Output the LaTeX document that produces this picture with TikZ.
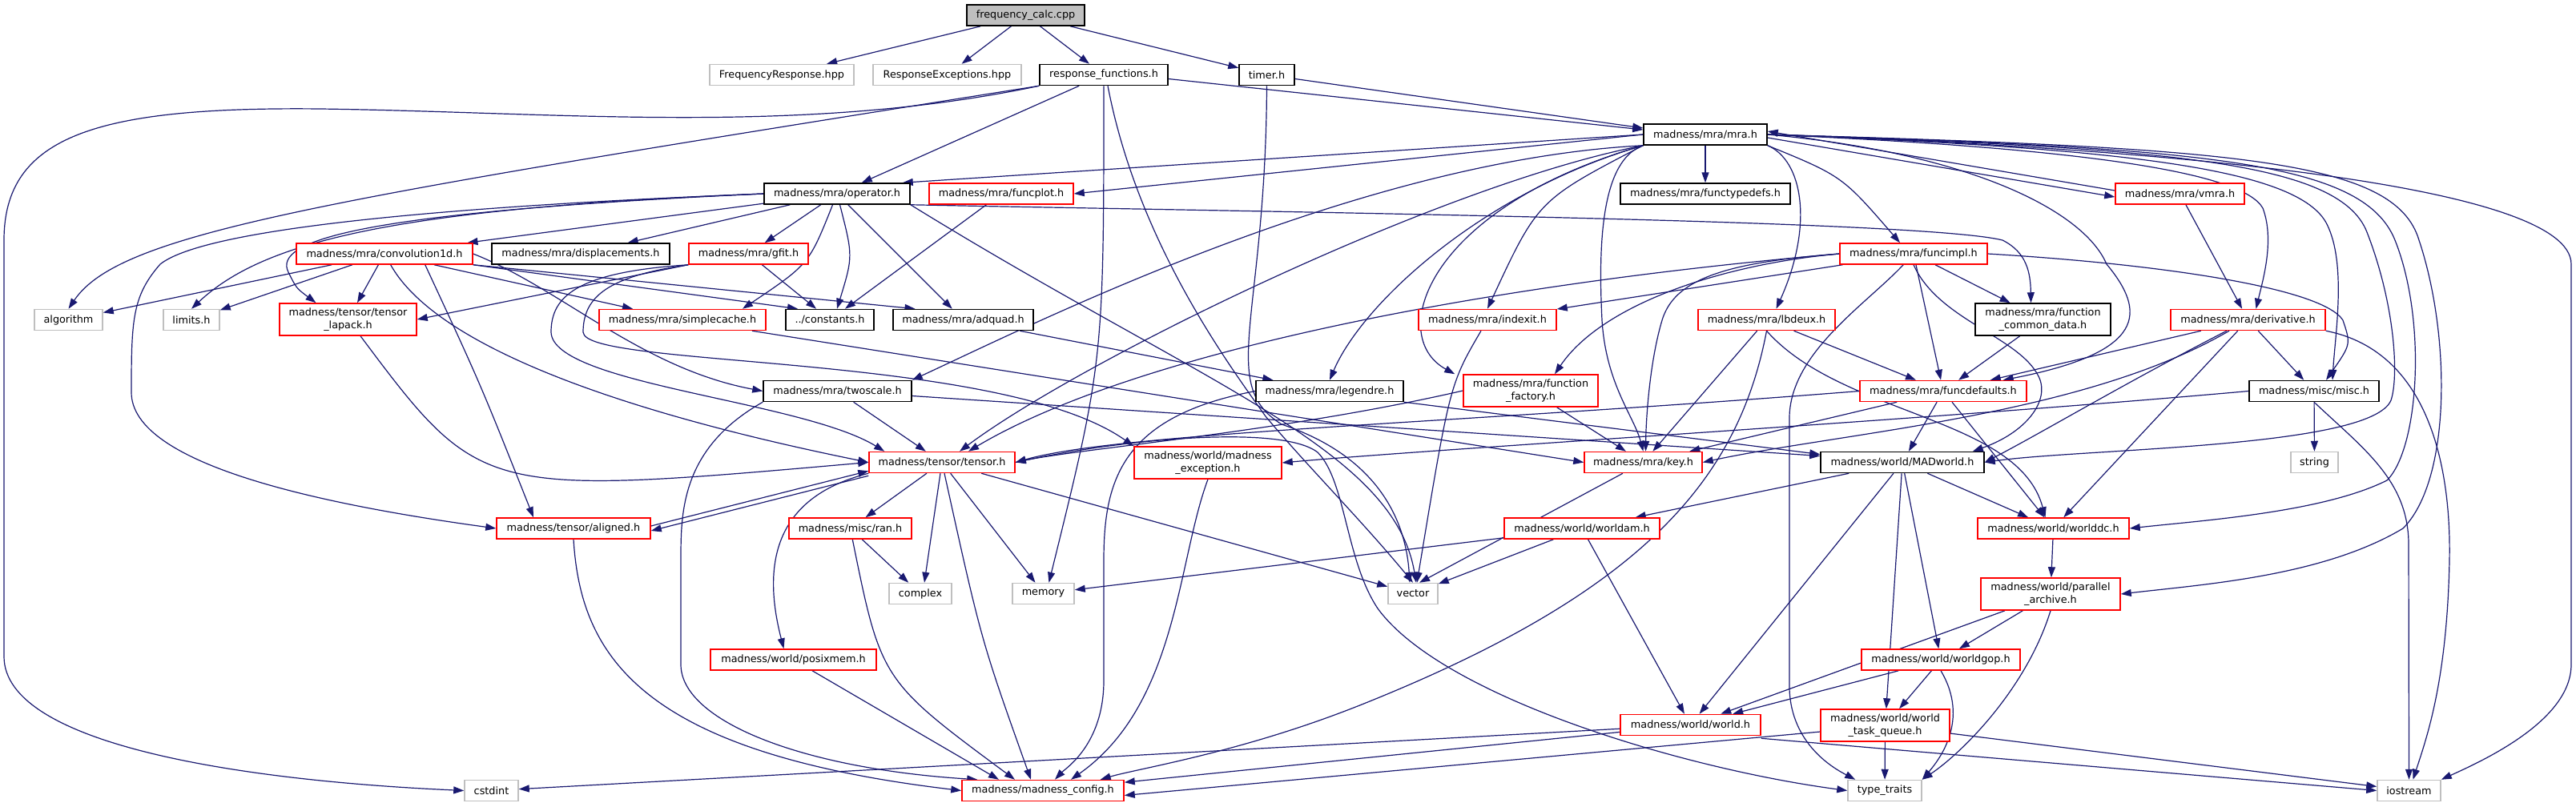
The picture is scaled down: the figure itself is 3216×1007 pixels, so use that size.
\documentclass[tikz,border=0pt]{standalone}
\usepackage{fontspec}
\setmainfont{DejaVu Sans}
\usetikzlibrary{arrows.meta}
\definecolor{mblue}{HTML}{191970}
\definecolor{rootfill}{HTML}{BFBFBF}
\definecolor{gborder}{HTML}{BFBFBF}
\definecolor{rborder}{HTML}{FF0000}
\pgfdeclarelayer{bg}
\pgfsetlayers{bg,main}
\begin{document}
\begin{tikzpicture}[x=1pt,y=-1pt,
  box/.style={draw=black,line width=1.5pt,fill=white,inner sep=0pt,align=center,
    font=\fontsize{12.8}{15.3}\selectfont,minimum height=26pt},
  rbox/.style={box,draw=rborder},
  gbox/.style={box,draw=gborder},
  two/.style={minimum height=40pt},
  e/.style={draw=mblue,line width=1.2pt,-{Triangle[length=13pt,width=9pt]}}]
\useasboundingbox (0,0) rectangle (3216,1007);
% nodes
\node[box,fill=rootfill,minimum width=147pt] (freq) at (1280.5,19) {frequency\_calc.cpp};
\node[gbox,minimum width=180pt] (FR) at (976,93.5) {FrequencyResponse.hpp};
\node[gbox,minimum width=185pt] (RE) at (1182.5,93.5) {ResponseExceptions.hpp};
\node[box,minimum width=160pt] (rf) at (1378,93.5) {response\_functions.h};
\node[box,minimum width=69pt] (timer) at (1581.5,93.5) {timer.h};
\node[box,minimum width=154pt] (mra) at (2129,168) {madness/mra/mra.h};
\node[box,minimum width=182pt] (op) at (1045,242) {madness/mra/operator.h};
\node[rbox,minimum width=180pt] (funcplot) at (1250,242) {madness/mra/funcplot.h};
\node[box,minimum width=212pt] (functypedefs) at (2129,242) {madness/mra/functypedefs.h};
\node[rbox,minimum width=161pt] (vmra) at (2721.5,242) {madness/mra/vmra.h};
\node[rbox,minimum width=220pt] (conv) at (480,317) {madness/mra/convolution1d.h};
\node[box,minimum width=222pt] (disp) at (725,317) {madness/mra/displacements.h};
\node[rbox,minimum width=149pt] (gfit) at (934.5,317) {madness/mra/gfit.h};
\node[rbox,minimum width=184pt] (funcimpl) at (2389,317) {madness/mra/funcimpl.h};
\node[gbox,minimum width=85pt] (algorithm) at (85.5,399.5) {algorithm};
\node[gbox,minimum width=70pt] (limits) at (239,399.5) {limits.h};
\node[rbox,two,minimum width=171pt] (lapack) at (434.5,399) {madness/tensor/tensor\\\_lapack.h};
\node[rbox,minimum width=208pt] (simplecache) at (852,399.5) {madness/mra/simplecache.h};
\node[box,minimum width=110pt] (constants) at (1036,399.5) {../constants.h};
\node[box,minimum width=175pt] (adquad) at (1202.5,399.5) {madness/mra/adquad.h};
\node[rbox,minimum width=172pt] (indexit) at (1857,399.5) {madness/mra/indexit.h};
\node[rbox,minimum width=171pt] (lbdeux) at (2205.5,399.5) {madness/mra/lbdeux.h};
\node[box,two,minimum width=169pt] (fcd) at (2550.5,399) {madness/mra/function\\\_common\_data.h};
\node[rbox,minimum width=193pt] (derivative) at (2806.5,399.5) {madness/mra/derivative.h};
\node[box,minimum width=185pt] (twoscale) at (1045.5,488.5) {madness/mra/twoscale.h};
\node[box,minimum width=184pt] (legendre) at (1660,488.5) {madness/mra/legendre.h};
\node[rbox,two,minimum width=168pt] (ffactory) at (1911,488) {madness/mra/function\\\_factory.h};
\node[rbox,minimum width=208pt] (funcdefaults) at (2426,488.5) {madness/mra/funcdefaults.h};
\node[box,minimum width=162pt] (misc) at (2889,488.5) {madness/misc/misc.h};
\node[rbox,minimum width=182pt] (tensor) at (1176,577.5) {madness/tensor/tensor.h};
\node[rbox,two,minimum width=184pt] (mexc) at (1508,578) {madness/world/madness\\\_exception.h};
\node[rbox,minimum width=147pt] (key) at (2051.5,577.5) {madness/mra/key.h};
\node[box,minimum width=204pt] (MADworld) at (2375,577.5) {madness/world/MADworld.h};
\node[gbox,minimum width=59pt] (string) at (2889.5,577.5) {string};
\node[rbox,minimum width=192pt] (aligned) at (716,660) {madness/tensor/aligned.h};
\node[rbox,minimum width=153pt] (ran) at (1061.5,660) {madness/misc/ran.h};
\node[rbox,minimum width=194pt] (worldam) at (1975,660) {madness/world/worldam.h};
\node[rbox,minimum width=189pt] (worlddc) at (2563.5,660) {madness/world/worlddc.h};
\node[gbox,minimum width=78pt] (complex) at (1149,741.5) {complex};
\node[gbox,minimum width=77pt] (memory) at (1302.5,741.5) {memory};
\node[gbox,minimum width=62pt] (vector) at (1764,741.5) {vector};
\node[rbox,two,minimum width=174pt] (parallel) at (2560,742) {madness/world/parallel\\\_archive.h};
\node[rbox,minimum width=207pt] (posixmem) at (990.5,824) {madness/world/posixmem.h};
\node[rbox,minimum width=198pt] (worldgop) at (2423,824) {madness/world/worldgop.h};
\node[rbox,minimum width=175pt] (world) at (2110.5,905.5) {madness/world/world.h};
\node[rbox,two,minimum width=161pt] (wtq) at (2353.5,906) {madness/world/world\\\_task\_queue.h};
\node[gbox,minimum width=67pt] (cstdint) at (613.5,987.5) {cstdint};
\node[rbox,minimum width=202pt] (config) at (1302,987.5) {madness/madness\_config.h};
\node[gbox,minimum width=92pt] (typetraits) at (2353,987.5) {type\_traits};
\node[gbox,minimum width=79pt] (iostream) at (3007.5,987.5) {iostream};
% edges
\begin{pgfonlayer}{bg}
\draw[e] (freq) -- (FR);
\draw[e] (freq) -- (RE);
\draw[e] (freq) -- (rf);
\draw[e] (freq) -- (timer);
\draw[e] ([yshift=-5pt]rf.east) -- ([yshift=6pt]mra.west);
\draw[e] (timer) -- ([yshift=8pt]mra.west);
\draw[e] (rf) -- (op);
\draw[e] (rf.south west) .. controls (400,250) and (150,290) .. (algorithm.north);
\draw[e] (rf.south west) .. controls (1000,170) and (700,140) .. (400,136) .. controls (120,133) and (5,170) .. (5,300) -- (5,820) .. controls (5,930) and (300,975) .. (cstdint.west);
\draw[e] (rf.south) .. controls (1378,450) .. ([xshift=7pt]memory.north);
\draw[e] ([xshift=5pt]rf.south) .. controls (1420,300) and (1530,450) .. (1580,520) .. controls (1630,580) and (1700,650) .. (vector.north);
\draw[e] (timer.south) .. controls (1580,400) and (1520,480) .. (1600,530) .. controls (1720,570) and (1755,650) .. ([xshift=-4pt]vector.north);
% mra
\draw[e] (mra.west) -- ([xshift=-10pt]op.north east);
\draw[e] (mra.west) -- (funcplot.east);
\draw[e] (mra) -- (functypedefs);
\draw[e] ([yshift=-4pt]mra.east) -- ([yshift=-4pt]vmra.west);
\draw[e] ([yshift=4pt]vmra.west) -- ([yshift=4pt]mra.east);
\draw[e] (mra.south east) .. controls (2300,220) .. ([xshift=-17pt]funcimpl.north);
\draw[e] (mra.south west) .. controls (1700,200) and (1300,400) .. (twoscale.north east);
\draw[e] (mra.south west) .. controls (1800,230) and (1350,450) .. ([xshift=22pt]tensor.north);
\draw[e] (mra.south west) .. controls (1850,240) and (1700,380) .. (legendre.north);
\draw[e] (mra.south west) .. controls (1780,260) and (1730,420) .. ([xshift=-10pt]ffactory.north west);
\draw[e] (mra.south west) .. controls (1920,250) .. (indexit.north);
\draw[e] (mra.south west) .. controls (2000,200) and (1995,300) .. (2000,400) .. controls (2005,480) and (2040,520) .. (key.north);
\draw[e] (mra.south east) .. controls (2250,200) and (2265,280) .. ([xshift=12pt]lbdeux.north);
\draw[e] (mra.east) .. controls (2450,190) and (2600,260) .. (2630,330) .. controls (2680,390) and (2680,440) .. ([xshift=-30pt]funcdefaults.north east);
\draw[e] (mra.east) .. controls (2600,185) and (2800,215) .. (2825,260) .. controls (2840,300) and (2825,350) .. ([xshift=10pt]derivative.north);
\draw[e] (mra.east) .. controls (2650,185) and (2870,210) .. (2905,280) .. controls (2930,330) and (2915,420) .. ([xshift=23pt]misc.north);
\draw[e] (mra.east) .. controls (2700,185) and (2920,200) .. (2955,290) .. controls (2990,380) and (2995,470) .. (2985,500) .. controls (2960,560) and (2600,560) .. (MADworld.east);
\draw[e] (mra.east) .. controls (2750,185) and (2950,200) .. (2990,300) .. controls (3030,400) and (3020,560) .. (2980,600) .. controls (2900,640) and (2750,650) .. (worlddc.east);
\draw[e] (mra.east) .. controls (2800,185) and (2990,200) .. (3020,300) .. controls (3060,420) and (3060,600) .. (3000,660) .. controls (2900,720) and (2750,730) .. (parallel.east);
\draw[e] (mra.east) .. controls (2700,185) and (3210,230) .. (3210,330) -- (3210,830) .. controls (3210,900) and (3100,950) .. (iostream.north east);
\draw[e] (vmra) -- (derivative);
% operator
\draw[e] (op) -- (conv);
\draw[e] (op) -- (disp);
\draw[e] (op) -- (gfit);
\draw[e] (op.west) .. controls (500,260) and (330,300) .. (limits.north);
\draw[e] (op.west) .. controls (500,260) and (250,290) .. (200,330) .. controls (165,370) and (164,400) .. (164,490) .. controls (164,580) and (400,630) .. (aligned.west);
\draw[e] (op.west) .. controls (450,265) and (340,300) .. (360,340) .. controls (370,360) .. ([xshift=-40pt]lapack.north);
\draw[e] (op) .. controls (1010,330) .. ([xshift=75pt]simplecache.north);
\draw[e] (op) .. controls (1065,320) .. ([xshift=9pt]constants.north);
\draw[e] (op) -- (adquad);
\draw[e] (op.south east) .. controls (1600,265) and (2400,275) .. (2500,300) .. controls (2530,315) and (2535,340) .. ([xshift=-15pt]fcd.north);
\draw[e] (op.south east) .. controls (1500,480) and (1740,560) .. ([xshift=4pt]vector.north);
\draw[e] (funcplot) -- ([xshift=19pt]constants.north);
% conv
\draw[e] (conv) -- (algorithm);
\draw[e] (conv) -- (limits);
\draw[e] (conv) -- (lapack);
\draw[e] (conv) -- (simplecache);
\draw[e] (conv.south east) -- ([xshift=-40pt]constants.north);
\draw[e] (conv.south east) -- ([xshift=-60pt]adquad.north);
\draw[e] ([xshift=-60pt]conv.south east) .. controls (600,480) .. ([xshift=-50pt]aligned.north);
\draw[e] (conv) .. controls (560,460) and (900,540) .. (tensor.west);
\draw[e] (conv.east) .. controls (700,360) and (800,460) .. (twoscale.west);
% gfit
\draw[e] (gfit.south west) -- (lapack.east);
\draw[e] (gfit) -- (constants);
\draw[e] (gfit.south west) .. controls (720,340) and (688,370) .. (688,415) .. controls (690,480) and (1000,500) .. ([xshift=20pt]tensor.north west);
\draw[e] (gfit.south west) .. controls (760,345) and (728,370) .. (728,415) .. controls (730,460) and (1250,440) .. (mexc.north west);
\draw[e] (lapack) .. controls (600,620) .. (tensor.west);
\draw[e] (simplecache) -- (key.west);
\draw[e] (adquad) -- (legendre);
\draw[e] (twoscale) -- (tensor);
\draw[e] (twoscale.south west) .. controls (850,560) and (850,640) .. (850,700) -- (850,830) .. controls (850,900) and (1000,960) .. ([xshift=20pt]config.north west);
\draw[e] ([yshift=-6pt]twoscale.east) -- ([yshift=8pt]MADworld.west);
\draw[e] (legendre.west) .. controls (1400,520) and (1378,600) .. (1378,700) -- (1378,850) .. controls (1378,930) and (1330,960) .. ([xshift=15pt]config.north);
\draw[e] (legendre.south east) -- ([yshift=10pt]MADworld.west);
% funcimpl
\draw[e] (funcimpl) -- (indexit);
\draw[e] (funcimpl) -- (fcd);
\draw[e] (funcimpl.west) .. controls (2150,330) and (2000,380) .. ([xshift=30pt]ffactory.north);
\draw[e] (funcimpl) -- (funcdefaults);
\draw[e] (funcimpl.east) .. controls (2700,330) and (2900,360) .. (2925,400) .. controls (2935,430) .. ([xshift=15pt]misc.north);
\draw[e] (funcimpl.west) .. controls (2150,328) and (2090,350) .. (2075,400) .. controls (2060,450) and (2055,520) .. ([xshift=3pt]key.north);
\draw[e] (funcimpl.west) .. controls (1800,360) and (1400,450) .. ([xshift=33pt]tensor.north);
\draw[e] (funcimpl.south) .. controls (2420,400) and (2520,420) .. (2545,470) .. controls (2560,500) and (2530,540) .. ([xshift=-15pt]MADworld.north east);
\draw[e] (funcimpl) .. controls (2330,380) and (2236,440) .. (2234,520) -- (2234,860) .. controls (2236,930) and (2290,960) .. ([xshift=10pt]typetraits.north west);
\draw[e] (indexit) .. controls (1810,480) .. ([xshift=5pt]vector.north);
\draw[e] (lbdeux) -- (key);
\draw[e] (lbdeux) -- (funcdefaults);
\draw[e] (lbdeux.south) .. controls (2300,520) and (2520,520) .. ([xshift=-10pt]worlddc.north);
\draw[e] (lbdeux.south) .. controls (2170,600) and (2050,740) .. (1700,880) .. controls (1550,940) and (1420,960) .. ([xshift=-30pt]config.north east);
\draw[e] (ffactory) -- (key);
\draw[e] (ffactory.west) .. controls (1600,540) and (1350,560) .. (tensor.east);
\draw[e] (fcd) -- (funcdefaults);
\draw[e] (derivative) -- (funcdefaults);
\draw[e] (derivative) -- (misc);
\draw[e] (derivative) .. controls (2650,480) and (2550,540) .. (MADworld.east);
\draw[e] (derivative) -- (worlddc);
\draw[e] (derivative) .. controls (2600,520) and (2300,540) .. (key.east);
\draw[e] (derivative.south east) .. controls (3040,440) and (3060,600) .. (3058,700) .. controls (3055,850) and (3030,920) .. ([xshift=5pt]iostream.north);
\draw[e] (funcdefaults) -- (key);
\draw[e] (funcdefaults.west) .. controls (1800,530) and (1400,540) .. (tensor.east);
\draw[e] (funcdefaults) -- (MADworld);
\draw[e] (funcdefaults) -- (worlddc);
\draw[e] (misc) -- (string);
\draw[e] (misc.south) .. controls (2950,560) and (3007,600) .. (3007,680) -- (iostream.north);
\draw[e] (misc.west) .. controls (2400,525) and (1800,560) .. (mexc.east);
% tensor
\draw[e] (tensor) -- (ran);
\draw[e] (tensor) -- ([xshift=5pt]complex.north);
\draw[e] (tensor) .. controls (1225,800) .. ([xshift=-15pt]config.north);
\draw[e] (tensor) -- ([xshift=-10pt]memory.north);
\draw[e] (tensor) -- (vector);
\draw[e] ([yshift=-3pt]tensor.south west) -- ([yshift=-3pt]aligned.east);
\draw[e] ([yshift=3pt]aligned.east) -- ([yshift=3pt]tensor.south west);
\draw[e] (tensor.south west) .. controls (970,620) and (950,700) .. ([xshift=-12pt]posixmem.north);
\draw[e] (tensor.east) .. controls (1400,548) and (1600,530) .. (1645,565) .. controls (1680,600) and (1680,700) .. (1720,760) .. controls (1800,870) and (2100,960) .. (typetraits.west);
\draw[e] (aligned.south) .. controls (725,820) and (800,940) .. (config.west);
\draw[e] (ran) -- (complex);
\draw[e] (ran) .. controls (1100,850) .. ([xshift=-35pt]config.north);
\draw[e] (posixmem) -- ([xshift=-55pt]config.north);
\draw[e] (mexc.south) .. controls (1470,700) and (1470,880) .. ([xshift=35pt]config.north);
\draw[e] (key) -- ([xshift=8pt]vector.north);
\draw[e] (MADworld) -- (worldam);
\draw[e] (MADworld) -- (worlddc);
\draw[e] (MADworld) -- (world);
\draw[e] (MADworld) -- (wtq);
\draw[e] (MADworld) -- (worldgop);
\draw[e] (worldam) -- (memory);
\draw[e] (worldam) -- (vector);
\draw[e] (worldam) -- (world);
\draw[e] (worlddc) -- (parallel);
\draw[e] (parallel) -- (worldgop);
\draw[e] (parallel) -- (world);
\draw[e] (parallel.south) .. controls (2530,860) and (2450,940) .. (typetraits.north east);
\draw[e] (worldgop) -- (world);
\draw[e] (worldgop) -- (wtq);
\draw[e] (worldgop.south) .. controls (2460,900) and (2420,950) .. (typetraits.north east);
\draw[e] (world) -- (config);
\draw[e] (world) -- (cstdint);
\draw[e] ([yshift=-3pt]world.south east) -- (iostream.west);
\draw[e] ([yshift=-8pt]wtq.west) -- ([yshift=-6pt]config.east);
\draw[e] (wtq) -- (typetraits);
\draw[e] (wtq) -- (iostream);
\end{pgfonlayer}
\end{tikzpicture}
\end{document}
